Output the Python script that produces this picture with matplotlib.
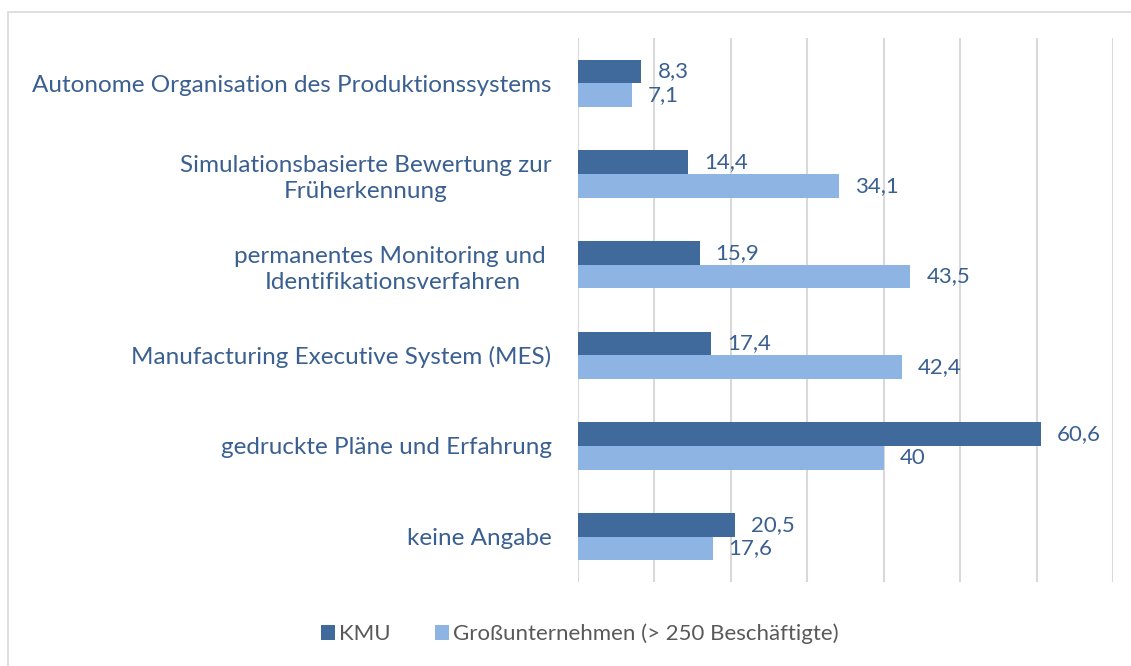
import matplotlib.pyplot as plt
import numpy as np
from matplotlib.patches import Rectangle

categories = [
    "Autonome Organisation des Produktionssystems",
    "Simulationsbasierte Bewertung zur\nFrüherkennung",
    "permanentes Monitoring und \nIdentifikationsverfahren",
    "Manufacturing Executive System (MES)",
    "gedruckte Pläne und Erfahrung",
    "keine Angabe",
]
kmu = [8.3, 14.4, 15.9, 17.4, 60.6, 20.5]
gross = [7.1, 34.1, 43.5, 42.4, 40, 17.6]
series_names = ["KMU", "Großunternehmen (> 250 Beschäftigte)"]

c_dark = "#416A9C"
c_light = "#8EB4E3"
c_text = "#3A5F91"

plt.rcParams['font.family'] = ['Lato', 'DejaVu Sans']

W, H = 1131, 666
fig = plt.figure(figsize=(W / 100, H / 100), dpi=100)
# chart frame
fig.patches.append(Rectangle((8 / W, -0.1), 1.2, 1.1 - 12 / H,
                             transform=fig.transFigure, fill=False,
                             edgecolor="#D9D9D9", linewidth=1.2))

ax = fig.add_axes([578 / W, 1 - 582 / H, (1113 - 578) / W, (582 - 38) / H])

y = np.arange(len(categories))
h = 0.26
ax.barh(y - h / 2, kmu, height=h, color=c_dark, label=series_names[0], zorder=3)
ax.barh(y + h / 2, gross, height=h, color=c_light, label=series_names[1], zorder=3)

for yi, v in zip(y, kmu):
    ax.annotate(f"{v:g}".replace(".", ","), (v, yi - h / 2), xytext=(11.5, 0),
                textcoords="offset points", va="center", ha="left",
                fontsize=16, color=c_text)
for yi, v in zip(y, gross):
    ax.annotate(f"{v:g}".replace(".", ","), (v, yi + h / 2), xytext=(11.5, 0),
                textcoords="offset points", va="center", ha="left",
                fontsize=16, color=c_text)

ax.set_xlim(0, 70)
ax.set_ylim(len(categories) - 0.5, -0.5)
ax.set_xticks(np.arange(0, 71, 10))
ax.set_xticklabels([])
ax.set_yticks(y)
ax.set_yticklabels(categories, fontsize=17.5, color=c_text, multialignment="center",
                   linespacing=1.3)
ax.tick_params(axis="both", length=0)
ax.tick_params(axis="y", pad=19)
ax.grid(axis="x", color="#D9D9D9", linewidth=1.5, zorder=0)
for s in ax.spines.values():
    s.set_visible(False)

leg = fig.legend(loc="center", bbox_to_anchor=(580 / W, 1 - 634 / H), ncol=2,
                 frameon=False, fontsize=16, handlelength=0.6, handleheight=0.6,
                 handletextpad=0.2, columnspacing=2.0)
for t in leg.get_texts():
    t.set_color("#595959")

fig.savefig("out.png", dpi=100)
